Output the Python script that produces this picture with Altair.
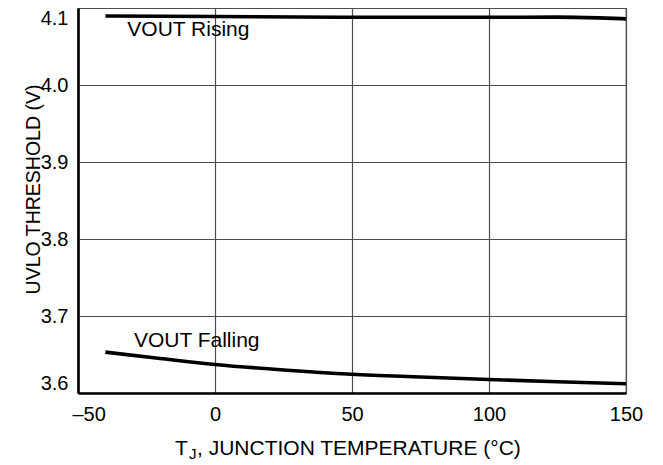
import altair as alt
import pandas as pd

# Data
rise_t = [-40, 0, 50, 100, 125, 140, 150]
rise_v = [4.0896, 4.0889, 4.0879, 4.0879, 4.0882, 4.0872, 4.0859]

fall_t = [-40, -20, 0, 25, 50, 75, 100, 125, 150]
fall_v = [3.6531, 3.6449, 3.6371, 3.6299, 3.6243, 3.6208, 3.6176, 3.6146, 3.6120]

label_text = ["VOUT Rising", "VOUT Falling"]
label_t = [-32.0, -29.6]
label_v = [4.0639, 3.6596]

FONT = "Liberation Sans"

df = pd.concat([
    pd.DataFrame({"t": rise_t, "v": rise_v, "s": "Rising"}),
    pd.DataFrame({"t": fall_t, "v": fall_v, "s": "Falling"}),
])
lab = pd.DataFrame({"text": label_text, "t": label_t, "v": label_v})

xscale = alt.Scale(domain=[-50, 150], nice=False, zero=False)
yscale = alt.Scale(domain=[3.6, 4.1], nice=False, zero=False)

xaxis = alt.Axis(values=[-50, 0, 50, 100, 150], title=None, ticks=False, tickSize=0,
                 labelPadding=11,
                 labelAlign={"condition": {"test": "datum.value < 0", "value": "left"}, "value": "center"},
                 labelOffset={"condition": {"test": "datum.value < 0", "value": -6}, "value": 0},
                 labelExpr="datum.value < 0 ? '\u2013' + format(-datum.value, 'd') : format(datum.value, 'd')")
yaxis = alt.Axis(values=[3.6, 3.7, 3.8, 3.9, 4.0, 4.1], format=".1f", ticks=False, tickSize=0,
                 labelPadding=10, labelFlush=True,
                 title="UVLO THRESHOLD (V)", titleAngle=270,
                 titleX=-39, titleY=181, titleAlign="center", titleBaseline="alphabetic",
                 titleFont=FONT, titleFontSize=19.5, titleFontWeight="normal", titleColor="black")

lines = alt.Chart(df).mark_line(color="black", strokeWidth=3.6, interpolate="monotone").encode(
    x=alt.X("t:Q", scale=xscale, axis=xaxis),
    y=alt.Y("v:Q", scale=yscale, axis=yaxis),
    detail="s:N",
)

labels = alt.Chart(lab).mark_text(font=FONT, fontSize=21, align="left", baseline="alphabetic",
                                  color="black").encode(
    x=alt.X("t:Q", scale=xscale),
    y=alt.Y("v:Q", scale=yscale),
    text="text:N",
)

title_T = alt.Chart(pd.DataFrame({"s": ["T"]})).mark_text(
    font=FONT, fontSize=21, align="left", baseline="alphabetic", color="black").encode(
    x=alt.value(97), y=alt.value(447), text="s:N")
title_J = alt.Chart(pd.DataFrame({"s": ["J"]})).mark_text(
    font=FONT, fontSize=15, align="left", baseline="alphabetic", color="black").encode(
    x=alt.value(111), y=alt.value(451), text="s:N")
title_rest = alt.Chart(pd.DataFrame({"s": [", JUNCTION TEMPERATURE (\u00b0C)"]})).mark_text(
    font=FONT, fontSize=21, align="left", baseline="alphabetic", color="black").encode(
    x=alt.value(119), y=alt.value(447), text="s:N")

chart = alt.layer(lines, labels, title_T, title_J, title_rest).properties(
    width=548, height=385,
    autosize=alt.AutoSizeParams(type="none"),
    padding={"left": 70, "top": 0, "right": 25, "bottom": 70},
    background="white",
).configure_view(
    stroke="#4d4d4d", strokeWidth=1.2,
).configure_axis(
    labelFont=FONT, labelFontSize=20, labelColor="black",
    domainColor="black", domainWidth=2.6,
    gridColor="#4d4d4d", gridWidth=1.2, gridOpacity=1,
)

chart.save("out.html", embed_options={"renderer": "svg", "actions": False})
